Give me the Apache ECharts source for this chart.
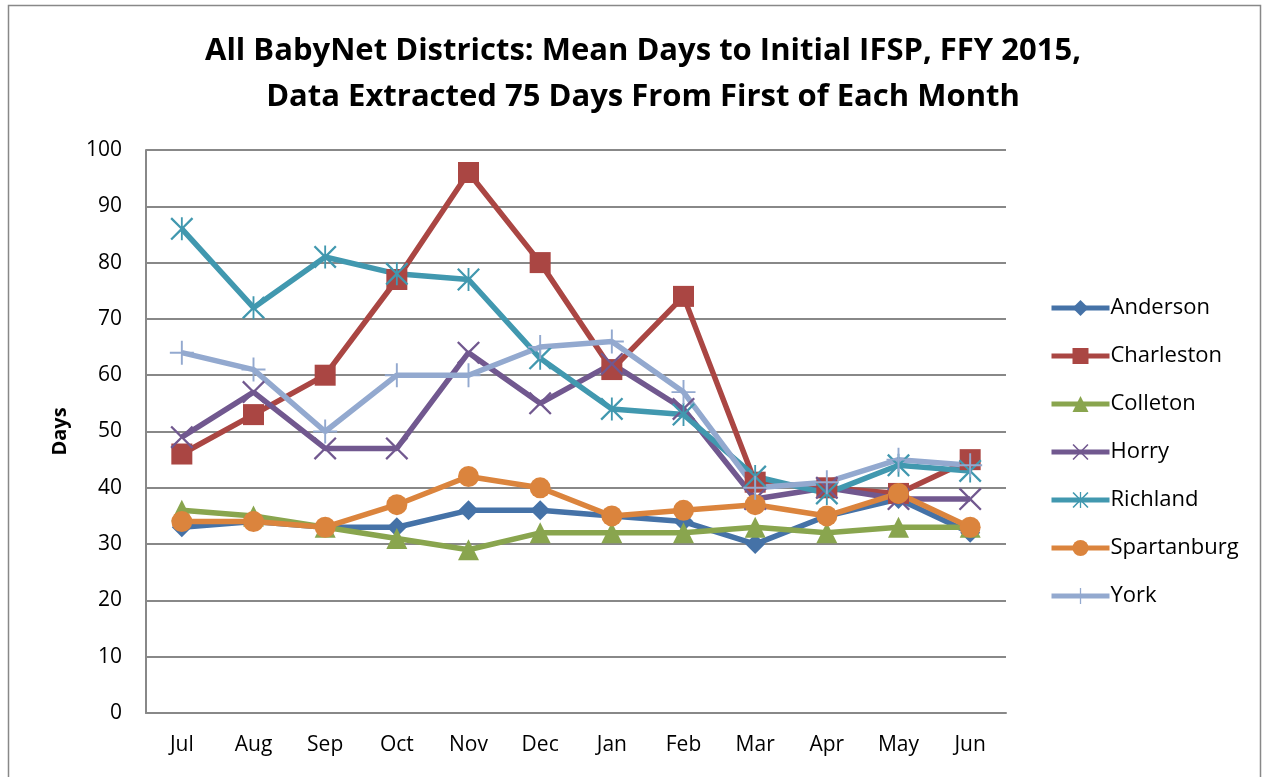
<!DOCTYPE html>
<html><head><meta charset="utf-8">
<script src="https://cdn.jsdelivr.net/npm/echarts@6/dist/echarts.min.js"></script>
<style>html,body{margin:0;padding:0;background:#fff}#c{width:1266px;height:777px}</style>
</head><body><div id="c"></div>
<script>
const months = ['Jul','Aug','Sep','Oct','Nov','Dec','Jan','Feb','Mar','Apr','May','Jun'];
const anderson    = [33,34,33,33,36,36,35,34,30,35,38,32];
const charleston  = [46,53,60,77,96,80,61,74,41,40,39,45];
const colleton    = [36,35,33,31,29,32,32,32,33,32,33,33];
const horry       = [49,57,47,47,64,55,62,54,38,40,38,38];
const richland    = [86,72,81,78,77,63,54,53,42,39,44,43];
const spartanburg = [34,34,33,37,42,40,35,36,37,35,39,33];
const york        = [64,61,50,60,60,65,66,57,40,41,45,44];
const yTicks = [0,10,20,30,40,50,60,70,80,90,100];

const FONT = "'Open Sans',sans-serif";
const X_PATH = 'path://M0,7 L7,0 L50,43 L93,0 L100,7 L57,50 L100,93 L93,100 L50,57 L7,100 L0,93 L43,50 Z';
const PLUS_PATH = 'path://M46,0 L54,0 L54,46 L100,46 L100,54 L54,54 L54,100 L46,100 L46,54 L0,54 L0,46 L46,46 Z';
const AST_PATH = 'path://M0,7 L7,0 L50,43 L93,0 L100,7 L57,50 L100,93 L93,100 L50,57 L7,100 L0,93 L43,50 Z M46,0 L54,0 L54,100 L46,100 Z';

const defs = [
  ['Anderson', anderson, '#4572A7', 'diamond', 20],
  ['Charleston', charleston, '#AA4643', 'rect', 21],
  ['Colleton', colleton, '#89A54E', 'triangle', 21],
  ['Horry', horry, '#71588F', X_PATH, 23],
  ['Richland', richland, '#4198AF', AST_PATH, 23],
  ['Spartanburg', spartanburg, '#DB843D', 'circle', 21],
  ['York', york, '#93A9CF', PLUS_PATH, 24]
];

const chart = echarts.init(document.getElementById('c'), null, {renderer:'canvas'});
chart.setOption({
  animation:false,
  backgroundColor:'#fff',
  title:{
    text:'All BabyNet Districts: Mean Days to Initial IFSP, FFY 2015,\nData Extracted 75 Days From First of Each Month',
    left:638, top:23, textAlign:'center',
    textStyle:{fontFamily:FONT, fontWeight:'bold', fontSize:31, lineHeight:46, color:'#000'}
  },
  graphic:[{type:'rect', shape:{x:8.5,y:5.5,width:1252,height:800}, style:{fill:'none', stroke:'#888', lineWidth:1.5}, silent:true}],
  legend:{
    orient:'vertical', left:1044, top:292, itemGap:26, itemWidth:58, itemHeight:20,
    lineStyle:{width:5},
    textStyle:{fontFamily:FONT, fontSize:22, color:'#000', padding:[0,0,0,-4]},
    data:defs.map(d=>d[0])
  },
  grid:{left:146, top:150, right:260, bottom:64, containLabel:false},
  xAxis:{
    type:'category', data:months, boundaryGap:true,
    axisLine:{lineStyle:{color:'#888', width:2}},
    axisTick:{show:false},
    axisLabel:{fontFamily:FONT, fontSize:21, color:'#000', margin:22}
  },
  yAxis:{
    type:'value', min:0, max:100, interval:10,
    name:'Days', nameLocation:'middle', nameGap:76,
    nameTextStyle:{fontFamily:FONT, fontSize:20, fontWeight:'bold', color:'#000'},
    axisLine:{show:true, lineStyle:{color:'#888', width:2}},
    axisTick:{show:false},
    splitLine:{lineStyle:{color:'#888', width:2}},
    axisLabel:{fontFamily:FONT, fontSize:21, color:'#000', margin:24,
      formatter:v=>yTicks.includes(v)?String(v):''}
  },
  series:defs.map(d=>({
    name:d[0], type:'line', data:d[1], symbol:d[3], symbolSize:d[4], showAllSymbol:true,
    lineStyle:{color:d[2], width:5.5}, itemStyle:{color:d[2]}, emphasis:{disabled:true}
  }))
});
</script></body></html>
